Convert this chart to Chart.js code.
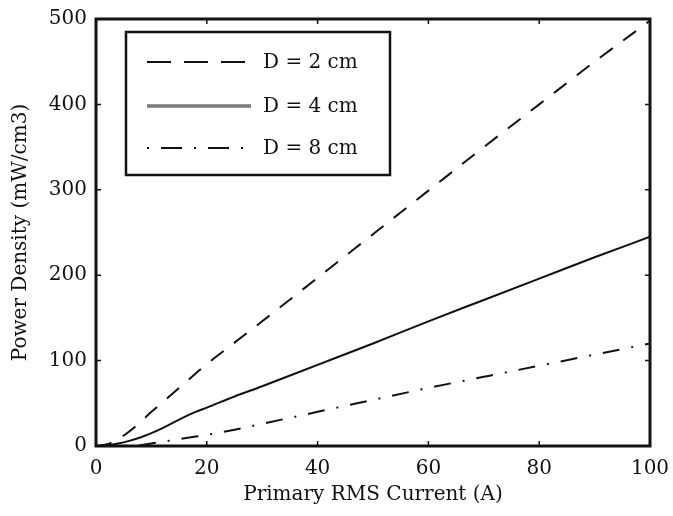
<!DOCTYPE html>
<html>
<head>
<meta charset="utf-8">
<script src="https://cdn.jsdelivr.net/npm/chart.js@4/dist/chart.umd.min.js"></script>
<style>
    html, body { margin: 0; padding: 0; background: #fff; }
    #wrap { width: 673px; height: 516px; }
</style>
</head>
<body>
<div id="wrap"><canvas id="powerChart" width="673" height="516"></canvas></div>
<script>
"use strict";

const current = [0, 2, 4, 6, 8, 10, 12, 15, 18, 20, 25, 30, 40, 50, 60, 70, 80, 90, 100];
const density2cm = [0, 2, 8, 17, 28, 40, 51, 68, 85, 96, 121, 146, 197, 248, 299, 350, 400, 450, 498];
const density4cm = [0, 1, 3, 6, 10, 15, 21, 31, 40, 45, 58, 70, 95, 120, 146, 171, 196, 221, 245];
const density8cm = [0, 0, 0, 0.5, 1, 3, 5, 8, 11, 13, 19, 26, 40, 54, 68, 81, 94, 107, 120];
const seriesLabels = ['D = 2 cm', 'D = 4 cm', 'D = 8 cm'];
const xTicks = [0, 20, 40, 60, 80, 100];
const yTicks = [0, 100, 200, 300, 400, 500];

const FONT = "'DejaVu Serif', 'Liberation Serif', serif";
const INK = '#111';

const toPoints = (values) => values.map((v, i) => ({x: current[i], y: v}));

// legend drawn by hand, matlab style box with line samples
const legendBox = {
    id: 'legendBox',
    afterDatasetsDraw(chart) {
        const ctx = chart.ctx;
        const box = {left: 126, top: 32, right: 390, bottom: 175};
        const rows = [62, 106, 148];
        ctx.save();
        ctx.fillStyle = '#fff';
        ctx.fillRect(box.left, box.top, box.right - box.left, box.bottom - box.top);
        ctx.strokeStyle = INK;
        ctx.lineWidth = 2.5;
        ctx.strokeRect(box.left, box.top, box.right - box.left, box.bottom - box.top);
        chart.data.datasets.forEach((ds, i) => {
            ctx.beginPath();
            ctx.setLineDash(ds.legendDash || []);
            ctx.strokeStyle = ds.legendColor || ds.borderColor;
            ctx.lineWidth = ds.legendWidth || ds.borderWidth;
            ctx.moveTo(147, rows[i]);
            ctx.lineTo(251, rows[i]);
            ctx.stroke();
            ctx.setLineDash([]);
            ctx.fillStyle = INK;
            ctx.font = '20px ' + FONT;
            ctx.textBaseline = 'middle';
            ctx.textAlign = 'left';
            ctx.fillText(ds.label, 263, rows[i] + 1);
        });
        ctx.restore();
    }
};

// box around the plot with ticks pointing inward
const frameTicks = {
    id: 'frameTicks',
    afterDraw(chart) {
        const ctx = chart.ctx;
        const a = chart.chartArea;
        const xs = chart.scales.x;
        const ys = chart.scales.y;
        const len = 5;
        ctx.save();
        ctx.strokeStyle = INK;
        ctx.lineWidth = 1.5;
        ctx.beginPath();
        xTicks.slice(1, -1).forEach((v) => {
            const px = xs.getPixelForValue(v);
            ctx.moveTo(px, a.bottom);
            ctx.lineTo(px, a.bottom - len);
            ctx.moveTo(px, a.top);
            ctx.lineTo(px, a.top + len);
        });
        yTicks.slice(1, -1).forEach((v) => {
            const py = ys.getPixelForValue(v);
            ctx.moveTo(a.left, py);
            ctx.lineTo(a.left + len, py);
            ctx.moveTo(a.right, py);
            ctx.lineTo(a.right - len, py);
        });
        ctx.stroke();
        ctx.lineWidth = 3;
        ctx.strokeRect(a.left, a.top, a.right - a.left, a.bottom - a.top);
        ctx.restore();
    }
};

new Chart(document.getElementById('powerChart'), {
    type: 'line',
    data: {
        datasets: [
            {
                label: seriesLabels[0],
                data: toPoints(density2cm),
                borderColor: INK,
                borderWidth: 2,
                borderDash: [16, 13],
                legendDash: [24, 13],
            },
            {
                label: seriesLabels[1],
                data: toPoints(density4cm),
                borderColor: INK,
                borderWidth: 2,
                legendColor: '#7a7a7a',
                legendWidth: 3.5,
            },
            {
                label: seriesLabels[2],
                data: toPoints(density8cm),
                borderColor: INK,
                borderWidth: 2,
                borderDash: [17, 12, 2, 12],
                legendDash: [2, 12, 21, 12],
            }
        ]
    },
    options: {
        responsive: false,
        animation: false,
        elements: {
            point: {radius: 0},
            line: {cubicInterpolationMode: 'monotone', fill: false}
        },
        layout: {padding: {top: 19, right: 23, left: 0, bottom: 0}},
        plugins: {
            legend: {display: false},
            tooltip: {enabled: false}
        },
        scales: {
            x: {
                type: 'linear',
                min: 0,
                max: 100,
                afterBuildTicks: (scale) => {
                    scale.ticks = xTicks.map(v => ({value: v}));
                },
                afterFit: (scale) => {
                    scale.height = 70;
                    scale.paddingLeft = 0;
                    scale.paddingRight = 0;
                },
                grid: {display: false, drawTicks: false},
                border: {display: false},
                ticks: {
                    color: INK,
                    padding: 11,
                    font: {family: FONT, size: 20}
                },
                title: {
                    display: true,
                    text: 'Primary RMS Current (A)',
                    color: INK,
                    padding: {top: 0, bottom: 9},
                    font: {family: FONT, size: 20}
                }
            },
            y: {
                type: 'linear',
                min: 0,
                max: 500,
                afterBuildTicks: (scale) => {
                    scale.ticks = yTicks.map(v => ({value: v}));
                },
                afterFit: (scale) => {
                    scale.width = 96;
                    scale.paddingTop = 0;
                    scale.paddingBottom = 0;
                },
                grid: {display: false, drawTicks: false},
                border: {display: false},
                ticks: {
                    color: INK,
                    padding: 9,
                    font: {family: FONT, size: 20}
                },
                title: {
                    display: true,
                    text: 'Power Density (mW/cm3)',
                    color: INK,
                    padding: {top: 9, bottom: 0},
                    font: {family: FONT, size: 20}
                }
            }
        }
    },
    plugins: [legendBox, frameTicks]
});
</script>
</body>
</html>
